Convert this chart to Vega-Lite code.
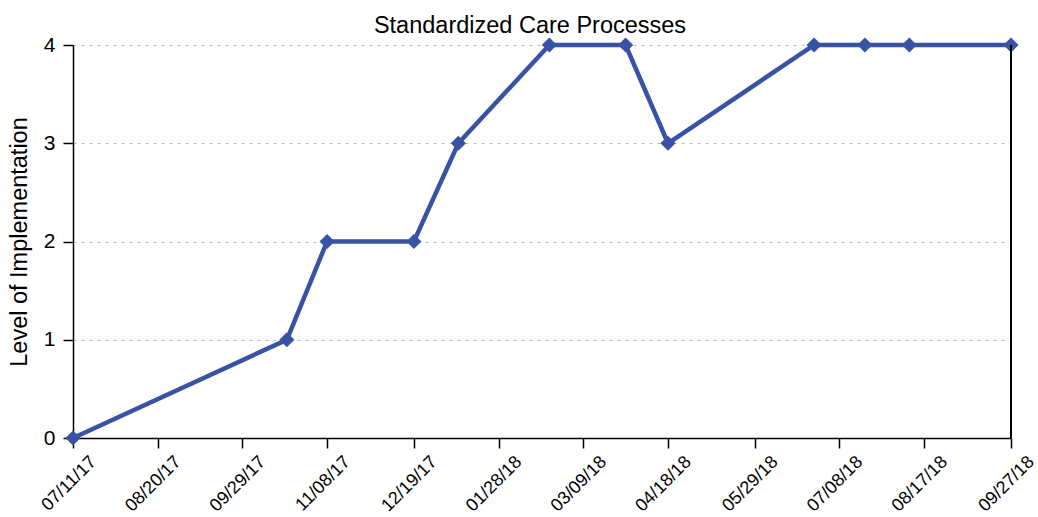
{
  "$schema": "https://vega.github.io/schema/vega-lite/v6.json",
  "autosize": "none",
  "width": 938,
  "height": 393,
  "padding": {"left": 73, "top": 45, "right": 27, "bottom": 79},
  "background": "white",
  "config": {
    "font": "Liberation Sans",
    "view": {"stroke": null},
    "axis": {"labelFont": "Liberation Sans", "titleFont": "Liberation Sans", "labelColor": "#000", "titleColor": "#000", "titleFontWeight": "normal", "domainColor": "#000", "tickColor": "#000", "domainWidth": 1.5, "tickWidth": 1.5}
  },
  "title": {"text": "Standardized Care Processes", "fontSize": 23.5, "fontWeight": "normal", "font": "Liberation Sans", "color": "#000", "anchor": "middle", "offset": -3, "dx": -12},
  "data": {
    "values": [
      {"date": "2017-07-11", "level": 0},
      {"date": "2017-10-20", "level": 1},
      {"date": "2017-11-08", "level": 2},
      {"date": "2017-12-19", "level": 2},
      {"date": "2018-01-09", "level": 3},
      {"date": "2018-02-21", "level": 4},
      {"date": "2018-03-29", "level": 4},
      {"date": "2018-04-18", "level": 3},
      {"date": "2018-06-26", "level": 4},
      {"date": "2018-07-20", "level": 4},
      {"date": "2018-08-10", "level": 4},
      {"date": "2018-09-27", "level": 4}
    ]
  },
  "layer": [
    {
      "mark": {"type": "line", "color": "#3953a4", "strokeWidth": 4.5, "point": {"shape": "diamond", "size": 230, "color": "#3953a4", "filled": true, "opacity": 1}},
      "encoding": {
        "x": {
          "field": "date", "type": "temporal",
          "scale": {"type": "utc", "domain": [{"year": 2017, "month": 7, "date": 11, "utc": true}, {"year": 2018, "month": 9, "date": 27, "utc": true}], "nice": false},
          "axis": {
            "title": null,
            "values": [
              {"year": 2017, "month": 7, "date": 11, "utc": true},
              {"year": 2017, "month": 8, "date": 20, "utc": true},
              {"year": 2017, "month": 9, "date": 29, "utc": true},
              {"year": 2017, "month": 11, "date": 8, "utc": true},
              {"year": 2017, "month": 12, "date": 19, "utc": true},
              {"year": 2018, "month": 1, "date": 28, "utc": true},
              {"year": 2018, "month": 3, "date": 9, "utc": true},
              {"year": 2018, "month": 4, "date": 18, "utc": true},
              {"year": 2018, "month": 5, "date": 29, "utc": true},
              {"year": 2018, "month": 7, "date": 8, "utc": true},
              {"year": 2018, "month": 8, "date": 17, "utc": true},
              {"year": 2018, "month": 9, "date": 27, "utc": true}
            ],
            "labelExpr": "utcFormat(datum.value, '%m/%d/%y')",
            "labelAngle": -45, "labelAlign": "right", "labelBaseline": "middle",
            "labelFontSize": 18, "labelPadding": 11, "labelOffset": 20,
            "tickSize": 10, "grid": false, "labelOverlap": false, "labelBound": false, "labelFlush": false
          }
        },
        "y": {
          "field": "level", "type": "quantitative",
          "scale": {"domain": [0, 4], "nice": false, "zero": true},
          "axis": {
            "title": "Level of Implementation", "titleFontSize": 23.5, "titlePadding": 12,
            "values": [0, 1, 2, 3, 4], "format": "d",
            "labelFontSize": 21, "labelPadding": 8, "tickSize": 10,
            "grid": true, "gridColor": "#bbbbbb", "gridDash": [3, 5], "gridWidth": 1.2
          }
        }
      }
    },
    {
      "mark": {"type": "rule", "color": "#000", "strokeWidth": 1.5},
      "encoding": {
        "x": {"datum": {"year": 2018, "month": 9, "date": 27, "utc": true}, "type": "temporal"}
      }
    }
  ]
}
